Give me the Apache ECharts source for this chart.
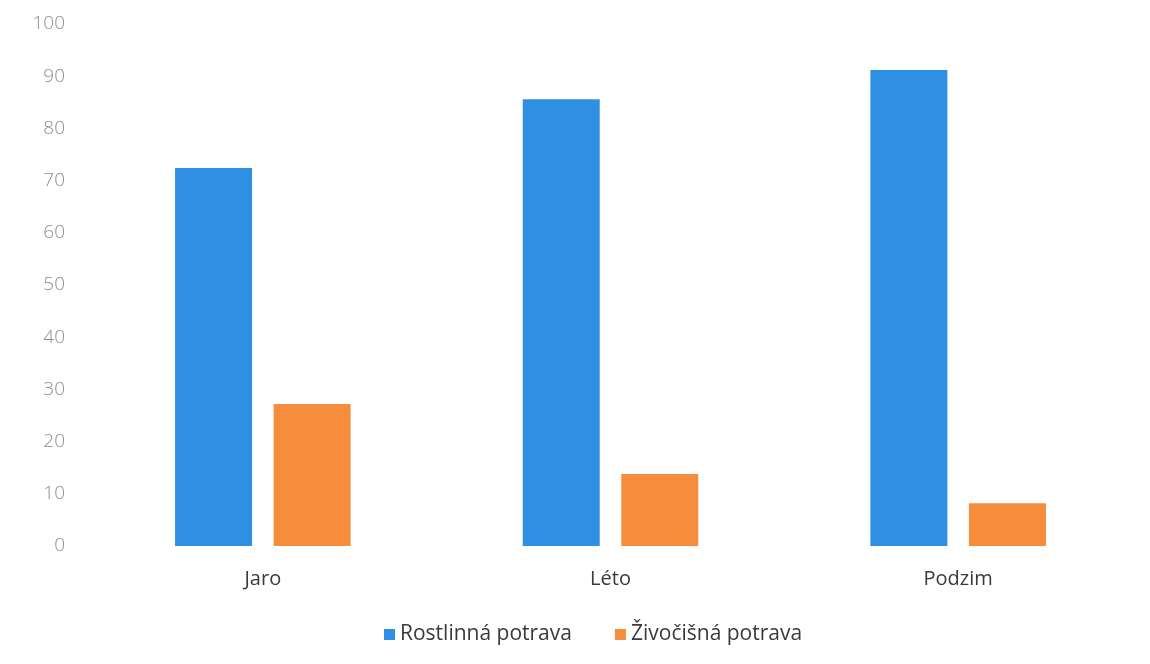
<!DOCTYPE html>
<html>
<head>
<meta charset="utf-8">
<script src="https://cdn.jsdelivr.net/npm/echarts@6/dist/echarts.min.js"></script>
<style>
  html, body { margin: 0; padding: 0; background: #ffffff; }
  #chart { width: 1150px; height: 664px; }
</style>
</head>
<body>
<div id="chart"></div>
<script>
const categories = ['Jaro', 'Léto', 'Podzim'];
const plantFood = [72.4, 85.6, 91.2];
const animalFood = [27.2, 13.8, 8.2];
const seriesNames = ['Rostlinná potrava', 'Živočišná potrava'];

const chart = echarts.init(document.getElementById('chart'));
const font = '"Open Sans", Lato, sans-serif';

chart.setOption({
  animation: false,
  backgroundColor: '#ffffff',
  grid: { left: 89, right: 18, top: 24, bottom: 118 },
  legend: {
    top: 619,
    left: 379,
    itemWidth: 11,
    itemHeight: 11,
    itemGap: 43,
    icon: 'rect',
    textStyle: { fontFamily: font, fontSize: 21, color: '#3a3a3a' },
    data: seriesNames
  },
  xAxis: {
    type: 'category',
    data: categories,
    axisLine: { show: false },
    axisTick: { show: false },
    axisLabel: { fontFamily: font, fontSize: 20, color: '#3a3a3a', margin: 23 }
  },
  yAxis: {
    type: 'value',
    min: 0,
    max: 100,
    interval: 10,
    splitLine: { show: false },
    axisLine: { show: false },
    axisTick: { show: false },
    axisLabel: { fontFamily: font, fontSize: 19, fontWeight: 300, color: '#8e8e8e', margin: 24 }
  },
  series: [
    {
      name: seriesNames[0],
      type: 'bar',
      data: plantFood,
      barWidth: 77,
      barGap: '28%',
      itemStyle: { color: '#2F8FE2' }
    },
    {
      name: seriesNames[1],
      type: 'bar',
      data: animalFood,
      barWidth: 77,
      itemStyle: { color: '#F68D3D' }
    }
  ]
});
</script>
</body>
</html>
